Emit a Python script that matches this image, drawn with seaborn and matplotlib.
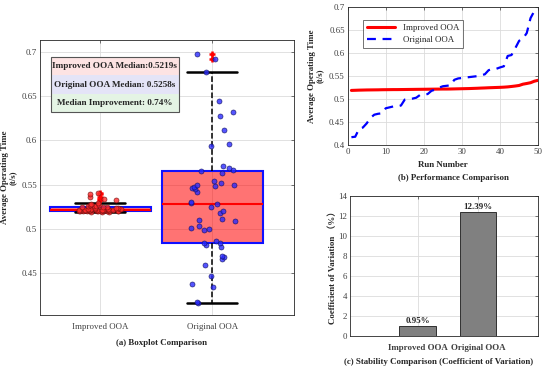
import numpy as np
import pandas as pd
import matplotlib
matplotlib.use("Agg")
import matplotlib.pyplot as plt
import seaborn as sns
from matplotlib.patches import Rectangle

# ---------------- data ----------------
groups = ["Improved OOA", "Original OOA"]

improved_times = [0.5189, 0.5192, 0.5195, 0.5197, 0.5199, 0.5200, 0.5201, 0.5202, 0.5204, 0.5205,
                  0.5206, 0.5207, 0.5207, 0.5208, 0.5209, 0.5210, 0.5211, 0.5212, 0.5213, 0.5214,
                  0.5215, 0.5216, 0.5217, 0.5218, 0.5219, 0.5219, 0.5220, 0.5222, 0.5224, 0.5226,
                  0.5228, 0.5230, 0.5233, 0.5236, 0.5240, 0.5243, 0.5247, 0.5250, 0.5253, 0.5256,
                  0.5260, 0.5266, 0.5275, 0.5285, 0.5297, 0.5325, 0.5340, 0.5357, 0.5390, 0.5410]

original_times = [0.417, 0.418, 0.435, 0.438, 0.447, 0.459, 0.466, 0.468, 0.469, 0.480,
                  0.482, 0.484, 0.484, 0.486, 0.499, 0.500, 0.501, 0.503, 0.509, 0.510,
                  0.511, 0.518, 0.5207, 0.525, 0.528, 0.529, 0.530, 0.542, 0.545, 0.546,
                  0.547, 0.548, 0.549, 0.550, 0.552, 0.554, 0.563, 0.5655, 0.566, 0.569,
                  0.5715, 0.594, 0.596, 0.611, 0.627, 0.632, 0.6438, 0.6765, 0.692, 0.697]

run_numbers = list(range(1, 51))

cv_values = [0.95, 12.39]
cv_labels = ["0.95%", "12.39%"]

info_lines = ["Improved OOA Median:0.5219s",
              "Original OOA Median: 0.5258s",
              "Median Improvement: 0.74%"]

# ---------------- style ----------------
sns.set_theme(style="white")
plt.rcParams["font.family"] = ["Liberation Serif", "Noto Sans CJK SC", "DejaVu Sans"]
plt.rcParams["axes.edgecolor"] = "#262626"
plt.rcParams["axes.linewidth"] = 0.6
plt.rcParams["xtick.color"] = "#404040"
plt.rcParams["ytick.color"] = "#404040"

FS = 6.4
grid_kw = dict(color="#dcdcdc", linewidth=0.6)

def style_axes(ax):
    ax.tick_params(direction="in", top=True, right=True, length=2.5, width=0.5,
                   labelsize=FS, pad=2)
    ax.grid(True, **grid_kw)
    ax.set_axisbelow(True)
    for s in ax.spines.values():
        s.set_visible(True)
        s.set_linewidth(0.6)

fig = plt.figure(figsize=(5.5, 3.71), dpi=100)

# ---------------- (a) boxplot ----------------
ax1 = fig.add_axes([0.0727, 0.151, 0.4618, 0.7412])
df = pd.DataFrame({
    "group": [groups[0]] * len(improved_times) + [groups[1]] * len(original_times),
    "time": improved_times + original_times,
})
sns.boxplot(data=df, x="group", y="time", order=groups, ax=ax1, width=0.9, whis=1.5,
            boxprops=dict(facecolor=(1.0, 0.0, 0.0, 0.55), edgecolor="#1010ff", linewidth=1.5),
            medianprops=dict(color="#ff0000", linewidth=1.5),
            whiskerprops=dict(color="black", linestyle="--", linewidth=1.1),
            capprops=dict(color="black", linewidth=1.8),
            flierprops=dict(marker="+", markeredgecolor="#ff0000", markersize=5, markeredgewidth=1.8),
            zorder=2)
np.random.seed(3)
sns.stripplot(data=df[df.group == groups[0]], x="group", y="time", order=groups, ax=ax1,
              color="#ff2a2a", edgecolor="#701010", linewidth=0.5, size=3.6, jitter=0.2,
              alpha=0.8, zorder=4)
sns.stripplot(data=df[df.group == groups[1]], x="group", y="time", order=groups, ax=ax1,
              color="#2a2aff", edgecolor="#101060", linewidth=0.5, size=3.6, jitter=0.22,
              alpha=0.8, zorder=4)
ax1.set_xlim(0 - 0.536, 1 + 0.73)
ax1.set_ylim(0.403, 0.713)
ax1.set_yticks([0.45, 0.5, 0.55, 0.6, 0.65, 0.7])
ax1.set_yticklabels(["0.45", "0.5", "0.55", "0.6", "0.65", "0.7"])
style_axes(ax1)
ax1.set_xlabel("")
ax1.set_ylabel("Average Operating Time\n(t/s)", fontsize=FS, fontweight="bold",
               linespacing=1.0)
ax1.yaxis.set_label_coords(-0.09, 0.5)
ax1.tick_params(axis="x", pad=6)

# info box
x0, x1 = 0.042, 0.548
rows_y = [0.939, 0.8717, 0.8043, 0.737]
row_colors = ["#fde3e3", "#e4e4f7", "#e4f4e4"]
for i in range(3):
    ax1.add_patch(Rectangle((x0, rows_y[i + 1]), x1 - x0, rows_y[i] - rows_y[i + 1],
                            transform=ax1.transAxes, facecolor=row_colors[i],
                            edgecolor="none", zorder=5))
    ax1.text((x0 + x1) / 2, (rows_y[i] + rows_y[i + 1]) / 2, info_lines[i],
             transform=ax1.transAxes, ha="center", va="center", fontsize=6.6,
             fontweight="bold", zorder=6)
ax1.add_patch(Rectangle((x0, rows_y[3]), x1 - x0, rows_y[0] - rows_y[3],
                        transform=ax1.transAxes, facecolor="none",
                        edgecolor="#555555", linewidth=0.8, zorder=7))

fig.text(161 / 550, 1 - 343 / 371, "(a) Boxplot Comparison", ha="center", va="center",
         fontsize=FS, fontweight="bold")

# ---------------- (b) line plot ----------------
ax2 = fig.add_axes([0.632, 0.6092, 0.3465, 0.3711])
sns.lineplot(x=run_numbers, y=sorted(improved_times), ax=ax2, color="#ff0000",
             linewidth=2.2, label="Improved OOA")
sns.lineplot(x=run_numbers, y=sorted(original_times), ax=ax2, color="#0000ff",
             linewidth=1.6, linestyle=(0, (4, 3)), label="Original OOA")
ax2.set_xlim(0, 50)
ax2.set_ylim(0.4, 0.7)
ax2.set_xticks([0, 10, 20, 30, 40, 50])
ax2.set_yticks([0.4, 0.45, 0.5, 0.55, 0.6, 0.65, 0.7])
ax2.set_yticklabels(["0.4", "0.45", "0.5", "0.55", "0.6", "0.65", "0.7"])
style_axes(ax2)
ax2.set_xlabel("Run Number", fontsize=FS, fontweight="bold", labelpad=4)
ax2.set_ylabel("Average Operating Time\n(t/s)", fontsize=FS, fontweight="bold",
               linespacing=1.0)
ax2.yaxis.set_label_coords(-0.124, 0.5)
leg = ax2.legend(loc="upper left", bbox_to_anchor=(0.06, 0.94), fontsize=FS, frameon=True,
                 fancybox=False, edgecolor="#333333", handlelength=3.2, borderpad=0.4,
                 labelspacing=0.5)
leg.get_frame().set_linewidth(0.6)
fig.text(453 / 550, 1 - 178 / 371, "(b) Performance Comparison", ha="center", va="center",
         fontsize=FS, fontweight="bold")

# ---------------- (c) bar chart ----------------
ax3 = fig.add_axes([350 / 550, 0.0951, 188 / 550, 0.3774])
sns.barplot(x=groups, y=cv_values, ax=ax3, color="#808080", edgecolor="#303030",
            linewidth=0.7, width=0.6, saturation=1)
ax3.set_xlim(-1.117, 1.99)
ax3.set_ylim(0, 14)
ax3.set_yticks([0, 2, 4, 6, 8, 10, 12, 14])
style_axes(ax3)
for i, (v, lab) in enumerate(zip(cv_values, cv_labels)):
    ax3.text(i, v + 0.1, lab, ha="center", va="bottom", fontsize=FS, fontweight="bold")
for t in ax3.get_xticklabels():
    t.set_fontweight("bold")
ax3.tick_params(axis="x", pad=6)
ax3.set_ylabel("Coefficient of Variation \uff08%\uff09", fontsize=FS, fontweight="bold")
ax3.yaxis.set_label_coords(-0.068, 0.5)
fig.text(439 / 550, 1 - 362 / 371, "(c) Stability Comparison (Coefficient of Variation)",
         ha="center", va="center", fontsize=FS, fontweight="bold")

fig.savefig("out.png", dpi=100)
